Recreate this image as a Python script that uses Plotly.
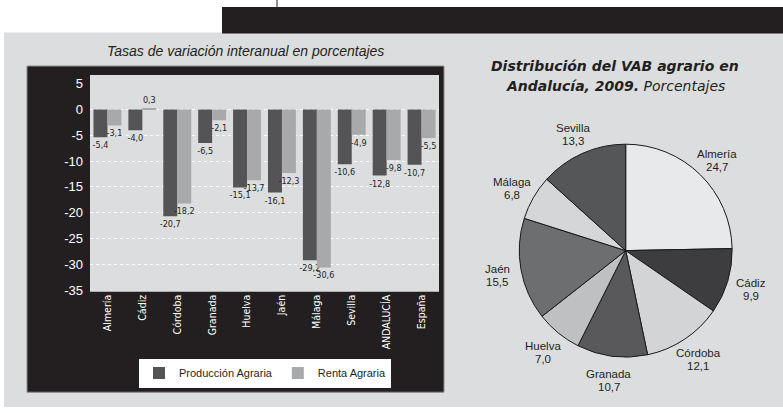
import math
import plotly.graph_objects as go

# ---- data ----
categories = ["Almería", "Cádiz", "Córdoba", "Granada", "Huelva", "Jaén",
              "Málaga", "Sevilla", "ANDALUCÍA", "España"]
produccion = [-5.4, -4.0, -20.7, -6.5, -15.1, -16.1, -29.2, -10.6, -12.8, -10.7]
renta = [-3.1, 0.3, -18.2, -2.1, -13.7, -12.3, -30.6, -4.9, -9.8, -5.5]
ytick_vals = [5, 0, -5, -10, -15, -20, -25, -30, -35]
grid_vals = [0, -5, -10, -15, -20, -25, -30]

pie_labels = ["Almería", "Cádiz", "Córdoba", "Granada", "Huelva", "Jaén", "Málaga", "Sevilla"]
pie_values = [24.7, 9.9, 12.1, 10.7, 7.0, 15.5, 6.8, 13.3]
pie_colors = ["#e8e9eb", "#3d3d3f", "#d3d4d6", "#59595b", "#bfc0c2", "#6d6e70", "#d5d6d8", "#555658"]

W, H = 783, 413
DARK = "#231f20"
NARROW = "DejaVu Sans Condensed, Liberation Sans, sans-serif"
SANS = "Liberation Sans, Arial, Helvetica, sans-serif"


def fmt(v):
    return ("%.1f" % v).replace(".", ",")


def px(x0, x1):
    return [x0 / W, x1 / W]


def py(y0, y1):
    return [1 - y1 / H, 1 - y0 / H]


fig = go.Figure()
fig.add_trace(go.Bar(
    x=categories, y=produccion, name="Producción Agraria",
    marker=dict(color="#545456", line=dict(width=0)),
    text=[fmt(v) for v in produccion], textposition="outside",
    textfont=dict(family=NARROW, size=9, color=DARK),
    constraintext="none", cliponaxis=False, hoverinfo="skip",
))
fig.add_trace(go.Bar(
    x=categories, y=renta, name="Renta Agraria",
    marker=dict(color="#a8a9ab", line=dict(width=0)),
    text=[fmt(v) for v in renta], textposition="outside",
    textfont=dict(family=NARROW, size=9, color=DARK),
    constraintext="none", cliponaxis=False, hoverinfo="skip",
))
# empty trace to carry the grid overlay axis
fig.add_trace(go.Scatter(x=[], y=[], yaxis="y2", showlegend=False, hoverinfo="skip"))

# pie geometry (pixels)
PCX, PCY, PR = 625.7, 254.3, 108
fig.add_trace(go.Pie(
    labels=pie_labels, values=pie_values, sort=False, direction="clockwise",
    rotation=0, marker=dict(colors=pie_colors, line=dict(color="#1a1a1a", width=1)),
    textinfo="none",
    domain=dict(x=px(PCX - PR, PCX + PR), y=py(PCY - PR, PCY + PR)),
    showlegend=False, hoverinfo="skip",
))

# pie labels placed outside each slice along its mid angle
pie_annotations = []
total = sum(pie_values)
cum = 0.0
for lab, val in zip(pie_labels, pie_values):
    mid = (cum + val / 2) / total * 2 * math.pi
    cum += val
    dist = PR * 1.21
    lx = PCX + dist * math.sin(mid)
    ly = PCY - dist * math.cos(mid) + 2
    for txt, shift in ((lab, 6.5), (fmt(val), -6.5)):
        pie_annotations.append(dict(
            text=txt, xref="paper", yref="paper", x=lx / W, y=1 - ly / H,
            xanchor="center", yanchor="middle", yshift=shift, showarrow=False,
            font=dict(family=SANS, size=11.5, color=DARK)))

yr = [-35.3, 6.7]
fig.update_layout(
    width=W, height=H, margin=dict(l=0, r=0, t=0, b=0),
    paper_bgcolor="white", plot_bgcolor="#dcdddf",
    barmode="group", bargap=0.2, bargroupgap=0,
    xaxis=dict(domain=px(90, 439), showgrid=False, zeroline=False, ticks="",
               tickangle=-90, tickfont=dict(family=NARROW, size=10.5, color="white"),
               showline=False),
    yaxis=dict(domain=py(76, 296), range=yr, tickvals=ytick_vals,
               ticktext=[str(v) for v in ytick_vals], showgrid=False, zeroline=False,
               tickfont=dict(family=SANS, size=13, color="white"), ticks="",
               ticklabelstandoff=6),
    yaxis2=dict(overlaying="y", range=yr, tickvals=grid_vals, showgrid=True,
                gridcolor="white", griddash="dot", gridwidth=1, zeroline=False,
                showticklabels=False, ticks="", side="left"),
    legend=dict(orientation="h", x=265 / W, xanchor="center", y=1 - 378.5 / H,
                yanchor="middle", bgcolor="white", font=dict(family=SANS, size=11, color=DARK),
                itemsizing="constant", traceorder="normal"),
    font=dict(family=SANS, color=DARK),
    shapes=[
        dict(type="rect", xref="paper", yref="paper", x0=4 / W, x1=1, y0=0, y1=1 - 33 / H,
             fillcolor="#dcdddf", line=dict(width=0), layer="below"),
        dict(type="rect", xref="paper", yref="paper", x0=222 / W, x1=1, y0=1 - 34 / H, y1=1 - 7 / H,
             fillcolor=DARK, line=dict(width=0), layer="below"),
        dict(type="line", xref="paper", yref="paper", x0=277 / W, x1=277 / W, y0=1 - 7 / H, y1=1,
             line=dict(color=DARK, width=1), layer="below"),
        dict(type="rect", xref="paper", yref="paper", x0=27 / W, x1=444 / W, y0=1 - 398 / H, y1=1 - 67 / H,
             fillcolor=DARK, line=dict(color="#8c8c8c", width=1), layer="below"),
        dict(type="rect", xref="x domain", yref="y domain", x0=0, x1=1, y0=0, y1=1,
             fillcolor="#dcdddf", line=dict(width=0), layer="below"),
    ],
    annotations=[
        dict(text="<i>Tasas de variación interanual en porcentajes</i>", xref="paper", yref="paper",
             x=245 / W, y=1 - 52 / H, xanchor="center", yanchor="middle", showarrow=False,
             font=dict(family=SANS, size=14, color=DARK)),
        dict(text="<b><i>Distribución del VAB agrario en</i></b>", xref="paper", yref="paper",
             x=615 / W, y=1 - 67 / H, xanchor="center", yanchor="middle", showarrow=False,
             font=dict(family="DejaVu Sans, sans-serif", size=14, color=DARK)),
        dict(text="<b><i>Andalucía, 2009.</i></b><i> Porcentajes</i>", xref="paper", yref="paper",
             x=615 / W, y=1 - 87 / H, xanchor="center", yanchor="middle", showarrow=False,
             font=dict(family="DejaVu Sans, sans-serif", size=14, color=DARK)),
    ] + pie_annotations,
)

fig.write_html("out.html", config={"displayModeBar": False},
               post_script="document.body.style.margin='0';")
